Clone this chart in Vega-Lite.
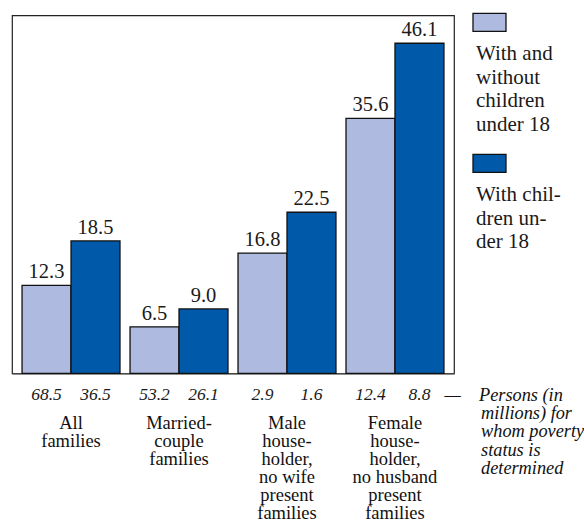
{
  "$schema": "https://vega.github.io/schema/vega-lite/v6.json",
  "padding": {"left": 11, "top": 10.35, "right": 0, "bottom": 0},
  "background": "white",
  "config": {"font": "'Liberation Serif', 'DejaVu Serif', serif"},
  "datasets": {
    "bars": [
      {"group": "All|families", "series": "With and without children under 18", "value": 12.3, "persons": 68.5},
      {"group": "All|families", "series": "With children under 18", "value": 18.5, "persons": 36.5},
      {"group": "Married-|couple|families", "series": "With and without children under 18", "value": 6.5, "persons": 53.2},
      {"group": "Married-|couple|families", "series": "With children under 18", "value": 9.0, "persons": 26.1},
      {"group": "Male|house-|holder,|no wife|present|families", "series": "With and without children under 18", "value": 16.8, "persons": 2.9},
      {"group": "Male|house-|holder,|no wife|present|families", "series": "With children under 18", "value": 22.5, "persons": 1.6},
      {"group": "Female|house-|holder,|no husband|present|families", "series": "With and without children under 18", "value": 35.6, "persons": 12.4},
      {"group": "Female|house-|holder,|no husband|present|families", "series": "With children under 18", "value": 46.1, "persons": 8.8}
    ],
    "legend": [
      {"series": "With and without children under 18", "label": "With and\nwithout\nchildren\nunder 18"},
      {"series": "With children under 18", "label": "With chil-\ndren un-\nder 18"}
    ]
  },
  "hconcat": [
    {
      "width": 442,
      "height": 358,
      "view": {"stroke": "#222", "strokeWidth": 1.2},
      "data": {"name": "bars"},
      "encoding": {
        "x": {
          "field": "group", "type": "nominal", "sort": null,
          "scale": {"paddingInner": 0.093, "paddingOuter": 0.093},
          "axis": {
            "title": ["—\u2003Persons (in", "\u200b\u2003\u2003millions) for", "\u200b\u2003\u2003whom poverty", "\u200b\u2003\u2003status is", "\u200b\u2003\u2003determined"],
            "titleFont": "'Liberation Serif', 'DejaVu Serif', serif", "titleFontStyle": "italic", "titleFontWeight": "normal",
            "titleFontSize": 18.3, "titleColor": "#111", "titleAlign": "left", "titleBaseline": "alphabetic",
            "titleX": 432, "titleY": 27, "titleLineHeight": 18.3, "titleAngle": 0,
            "labelExpr": "split(datum.label, '|')",
            "labelAngle": 0, "ticks": false, "domain": true, "domainColor": "#555", "domainWidth": 1.2,
            "labelFont": "'Liberation Serif', 'DejaVu Serif', serif", "labelFontSize": 18.5, "labelColor": "#111",
            "labelPadding": 55, "labelBaseline": "alphabetic", "labelLineHeight": 18, "labelOverlap": false
          }
        },
        "xOffset": {"field": "series", "type": "nominal", "sort": null, "scale": {"paddingInner": 0, "paddingOuter": 0}}
      },
      "layer": [
        {
          "mark": {"type": "bar", "stroke": "#111", "strokeWidth": 1.3},
          "encoding": {
            "y": {"field": "value", "type": "quantitative", "scale": {"domain": [0, 50], "nice": false}, "axis": null},
            "color": {"field": "series", "type": "nominal", "sort": null,
              "scale": {"domain": ["With and without children under 18", "With children under 18"], "range": ["#aebadf", "#0059a9"]},
              "legend": null}
          }
        },
        {
          "mark": {"type": "text", "font": "'Liberation Serif', 'DejaVu Serif', serif", "fontSize": 20.5, "dy": -7, "baseline": "alphabetic", "color": "#1a1a1a"},
          "encoding": {
            "y": {"field": "value", "type": "quantitative"},
            "text": {"field": "value", "type": "quantitative", "format": ".1f"}
          }
        },
        {
          "mark": {"type": "text", "font": "'Liberation Serif', 'DejaVu Serif', serif", "fontStyle": "italic", "fontSize": 17.5, "dy": 26.5, "baseline": "alphabetic", "color": "#1a1a1a"},
          "encoding": {
            "y": {"datum": 0, "type": "quantitative"},
            "text": {"field": "persons", "type": "quantitative", "format": ".1f"}
          }
        }
      ]
    },
    {
      "width": 33,
      "height": 155,
      "view": {"stroke": null},
      "data": {"name": "legend"},
      "encoding": {
        "y": {"field": "series", "type": "nominal", "sort": null, "scale": {"type": "point", "padding": 0.05}, "axis": null}
      },
      "layer": [
        {
          "mark": {"type": "point", "shape": "M-1,-0.545L1,-0.545L1,0.545L-1,0.545Z", "size": 1089, "filled": true, "opacity": 1, "stroke": "#111", "strokeWidth": 1.3},
          "encoding": {
            "color": {"field": "series", "type": "nominal", "sort": null,
              "scale": {"domain": ["With and without children under 18", "With children under 18"], "range": ["#aebadf", "#0059a9"]},
              "legend": null}
          }
        },
        {
          "mark": {"type": "text", "align": "left", "baseline": "alphabetic", "dy": 38, "dx": -13.5, "lineBreak": "\n", "lineHeight": 23.5, "font": "'Liberation Serif', 'DejaVu Serif', serif", "fontSize": 21, "color": "#1a1a1a"},
          "encoding": {"text": {"field": "label", "type": "nominal"}}
        }
      ]
    }
  ],
  "spacing": 19,
  "bounds": "flush",
  "resolve": {"scale": {"x": "independent", "y": "independent"}}
}
